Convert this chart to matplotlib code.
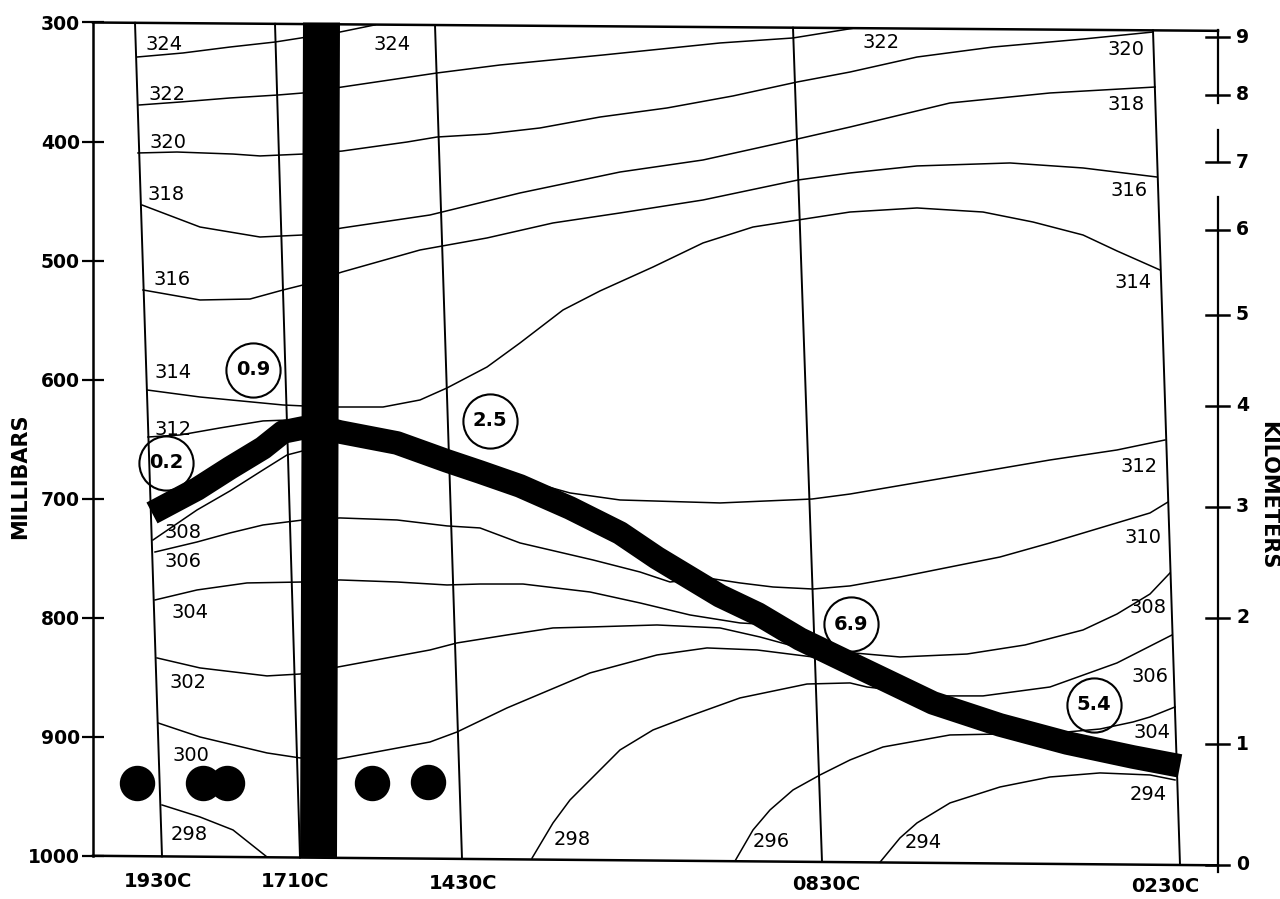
import numpy as np
import matplotlib
matplotlib.use("Agg")
import matplotlib.pyplot as plt

# x = minutes along the time section, counted from the 1930C sounding
# y = pressure (mb)

# frame (top and bottom lines run slightly downhill to the right)
frame_t = [-69, 1056]
frame_top_p = [300, 307]
frame_bot_p = [1000, 1008]

p_ticks = [300, 400, 500, 600, 700, 800, 900, 1000]

km_vals = [0, 1, 2, 3, 4, 5, 6, 7, 8, 9]
km_p = [1007.7, 906.1, 800.2, 707.0, 622.1, 545.7, 474.3, 417.2, 360.9, 312.2]
km_axis_segments = [(306.3, 367.6), (390.3, 417.2), (446.6, 1013.6)]

stations = ["1930C", "1710C", "1430C", "0830C", "0230C"]
stn_top_t = [-27, 113, 273, 631, 991]
stn_bot_t = [0, 138, 300, 660, 1018]
stn_lbl_t = [-4, 133, 301, 664, 1003]
stn_lbl_p = [1022, 1022, 1023, 1024, 1026]

# isentropes (theta, K)
th324_t = [-25, 21, 68, 113, 158, 178, 213]
th324_p = [329.0, 325.6, 320.6, 316.4, 310.5, 308.0, 302.0]

th322_t = [-23, 18, 68, 116, 141, 180, 275, 338, 441, 558, 631, 690]
th322_p = [369.3, 366.8, 363.4, 360.9, 359.2, 354.2, 342.4, 335.7, 327.3, 317.2, 313.0, 305.0]

th320_t = [-24, 15, 71, 98, 141, 180, 245, 275, 325, 378, 438, 505, 571, 635, 688, 755, 831, 921, 991]
th320_p = [409.6, 408.8, 410.5, 412.1, 410.5, 408.0, 400.4, 396.2, 393.7, 388.6, 379.4, 371.8,
           361.7, 350.0, 341.6, 329.0, 320.6, 313.9, 308.0]

th318_t = [-20, 38, 98, 141, 180, 268, 358, 458, 541, 618, 688, 788, 888, 993]
th318_p = [453.3, 471.8, 480.2, 478.5, 472.6, 461.7, 443.2, 425.6, 415.5, 401.2, 387.8, 367.6, 359.2, 354.2]

th316_t = [-19, 38, 88, 121, 141, 180, 258, 325, 391, 458, 541, 636, 688, 755, 848, 921, 995]
th316_p = [524.7, 533.1, 532.3, 524.7, 520.5, 509.6, 491.1, 481.0, 468.4, 460.0, 449.1, 432.3,
           426.4, 420.5, 418.0, 422.2, 429.8]

th314_t = [-15, 38, 121, 141, 176, 221, 258, 285, 325, 358, 401, 438, 491, 541, 591, 636, 688,
           755, 821, 871, 921, 955, 998]
th314_p = [608.7, 614.6, 621.3, 622.1, 623.0, 623.0, 617.1, 607.0, 589.4, 569.2, 541.5, 525.5,
           505.4, 485.2, 471.8, 465.9, 459.2, 455.8, 459.2, 467.6, 478.5, 491.9, 507.9]

th312a_t = [-14, 18, 58, 101, 128, 140]
th312a_p = [648.2, 646.5, 640.6, 634.7, 633.9, 638.0]
th312b_t = [343, 361, 408, 458, 558, 650, 688, 788, 888, 955, 1003]
th312b_p = [683.5, 684.3, 695.2, 701.1, 703.6, 700.3, 696.1, 681.8, 667.5, 659.1, 650.7]

th310_t = [-7, 35, 68, 101, 141, 178, 235, 285, 318, 358, 431, 478, 508, 545, 578, 611, 651,
           688, 738, 788, 838, 888, 938, 988, 1006]
th310_p = [744.8, 736.4, 728.8, 722.1, 717.9, 716.2, 717.9, 722.9, 724.6, 737.2, 751.5, 761.6,
           770.0, 766.6, 770.8, 774.2, 775.9, 773.3, 765.8, 757.4, 749.0, 737.2, 724.6, 712.0, 702.8]

th308_t = [-9, 35, 68, 101, 125, 148]
th308_p = [734.7, 709.5, 693.5, 675.9, 663.3, 658.3]

th304_t = [-7, 35, 85, 141, 178, 235, 285, 318, 361, 428, 478, 528, 578, 613]
th304_p = [785.1, 776.7, 770.8, 770.0, 768.3, 770.0, 772.5, 771.7, 771.7, 778.4, 787.6, 797.7, 804.4, 806.1]
th304r_t = [878, 905, 938, 971, 988, 1013]
th304r_p = [898.5, 896.0, 893.5, 887.6, 883.4, 875.0]

th302_t = [-5, 38, 105, 138, 176, 268, 295, 345, 391, 428, 495, 558, 598, 638]
th302_p = [833.8, 842.2, 848.9, 847.3, 841.4, 827.1, 821.2, 814.5, 808.6, 807.8, 806.1, 808.6, 816.2, 825.4]

th300_t = [-4, 38, 105, 138, 176, 268, 295, 345, 428, 495, 545, 595, 651, 681, 738, 805, 863,
           921, 955, 988, 1008]
th300_p = [888.4, 900.2, 913.6, 917.8, 918.7, 904.4, 896.0, 875.8, 846.4, 831.3, 825.4, 827.1,
           833.0, 828.8, 833.0, 830.5, 822.9, 810.3, 796.9, 780.1, 762.4]

th298a_t = [0, 38, 71, 105]
th298a_p = [957.3, 967.4, 978.3, 1001.0]
th298b_t = [370, 391, 408, 431, 458, 491, 525, 578, 645, 688, 705, 781, 821, 888, 955, 1010]
th298b_p = [1002.0, 972.4, 953.1, 933.8, 911.1, 894.3, 883.4, 867.4, 855.7, 854.8, 858.2,
            865.7, 865.7, 858.2, 838.0, 814.5]

th296_t = [573, 591, 608, 631, 658, 688, 721, 788, 838, 863]
th296_p = [1004.4, 978.3, 961.5, 944.7, 932.1, 919.5, 908.6, 898.5, 897.7, 901.0]

th294_t = [718, 738, 755, 788, 838, 888, 938, 988, 1013]
th294_p = [1005.4, 985.0, 972.4, 955.6, 942.2, 933.8, 930.4, 932.1, 936.3]

# frontal zone (heavy line) and the vertical heavy band
front_t = [-10, 35, 68, 101, 121, 141, 158, 178, 235, 285, 318, 358, 408, 458, 495, 558, 596,
           638, 698, 771, 838, 905, 971, 1018]
front_p = [712.0, 691.9, 674.2, 657.4, 644.0, 640.6, 639.8, 644.0, 653.2, 668.3, 677.6, 689.3,
           707.8, 728.8, 749.8, 781.7, 796.9, 817.9, 842.2, 871.6, 890.1, 905.2, 917.0, 924.5]
bar_t = [141, 178, 175, 138]
bar_p = [300, 300, 1001, 1001]

# isentrope labels
theta_lbl = ["324", "322", "320", "318", "316", "314", "312", "308", "306", "304", "302", "300", "298",
             "324", "322",
             "320", "318", "316", "314", "312", "310", "308", "306", "304", "294",
             "298", "296", "294"]
theta_lbl_t = [2, 5, 6, 4, 10, 11, 11, 21, 21, 28, 26, 29, 27,
               230, 719,
               964, 964, 967, 971, 977, 981, 986, 988, 990, 986,
               410, 609, 761]
theta_lbl_p = [318.1, 360.1, 400.4, 444.9, 516.3, 594.4, 641.5, 728.8, 753.2, 796.0, 854.8, 916.1, 981.7,
               318.9, 316.4,
               322.3, 369.3, 441.5, 518.8, 673.4, 733.0, 791.8, 849.8, 896.8, 948.9,
               986.7, 988.4, 989.2]

# circled values
circ_txt = ["0.9", "0.2", "2.5", "6.9", "5.4"]
circ_t = [91, 4, 328, 689, 932]
circ_p = [591.9, 670.0, 634.7, 805.3, 873.3]

# rain symbols
rain_t = [-25, 41, 65, 210, 266]
rain_p = [939, 939, 939, 939, 938]

isentropes = [(th324_t, th324_p), (th322_t, th322_p), (th320_t, th320_p), (th318_t, th318_p),
              (th316_t, th316_p), (th314_t, th314_p), (th312a_t, th312a_p), (th312b_t, th312b_p),
              (th310_t, th310_p), (th308_t, th308_p), (th304_t, th304_p), (th304r_t, th304r_p),
              (th302_t, th302_p), (th300_t, th300_p), (th298a_t, th298a_p), (th298b_t, th298b_p),
              (th296_t, th296_p), (th294_t, th294_p)]

fig = plt.figure(figsize=(12.8, 8.99), dpi=100)
ax = fig.add_axes([0, 0, 1, 1])
ax.set_xlim(-162, 1118)
ax.set_ylim(1036.3, 281.1)

# left pressure axis
for side in ["top", "right", "bottom"]:
    ax.spines[side].set_visible(False)
ax.spines["left"].set_position(("data", -69))
ax.spines["left"].set_bounds(300, 1000)
ax.spines["left"].set_linewidth(1.8)
ax.set_xticks([])
ax.set_yticks(p_ticks)
ax.set_yticklabels([str(v) for v in p_ticks], fontweight="bold")
ax.tick_params(axis="y", direction="inout", length=16, width=1.6, pad=1.5, labelsize=13.5)
ax.text(-142, 681, "MILLIBARS", rotation=90, ha="center", va="center",
        fontsize=15, fontweight="bold")

# frame
ax.plot(frame_t, frame_top_p, color="black", lw=1.8, clip_on=False)
ax.plot(frame_t, frame_bot_p, color="black", lw=1.8, clip_on=False)

# station lines
top_at = np.interp(stn_top_t, frame_t, frame_top_p)
bot_at = np.interp(stn_bot_t, frame_t, frame_bot_p)
for t0, t1, p0, p1 in zip(stn_top_t, stn_bot_t, top_at, bot_at):
    ax.plot([t0, t1], [p0, p1], color="black", lw=1.4)
for name, t, p in zip(stations, stn_lbl_t, stn_lbl_p):
    ax.text(t, p, name, ha="center", va="center", fontsize=14, fontweight="bold")

# right km axis
for a, b in km_axis_segments:
    ax.plot([1056, 1056], [a, b], color="black", lw=1.6)
for k, p in zip(km_vals, km_p):
    ax.plot([1044, 1067], [p, p], color="black", lw=1.8)
    ax.text(1074, p, str(k), ha="left", va="center", fontsize=13.5, fontweight="bold")
ax.text(1106, 697, "KILOMETERS", rotation=-90, ha="center", va="center",
        fontsize=15, fontweight="bold")

# isentropes
for t, p in isentropes:
    ax.plot(t, p, color="black", lw=1.1, zorder=2)
for s, t, p in zip(theta_lbl, theta_lbl_t, theta_lbl_p):
    ax.text(t, p, s, ha="center", va="center", fontsize=14, zorder=6)

# heavy bands
ax.fill(bar_t, bar_p, color="black", lw=0, zorder=4)
ax.plot(front_t, front_p, color="black", lw=17, solid_capstyle="butt",
        solid_joinstyle="round", zorder=4)

# circled numbers
ax.plot(circ_t, circ_p, "o", ms=39, mfc="none", mec="black", mew=1.5, zorder=5)
for s, t, p in zip(circ_txt, circ_t, circ_p):
    ax.text(t, p, s, ha="center", va="center", fontsize=14, fontweight="bold", zorder=6)

# rain
ax.plot(rain_t, rain_p, "o", ms=24.5, color="black", ls="none", zorder=5)

fig.savefig("out.png", dpi=100)
